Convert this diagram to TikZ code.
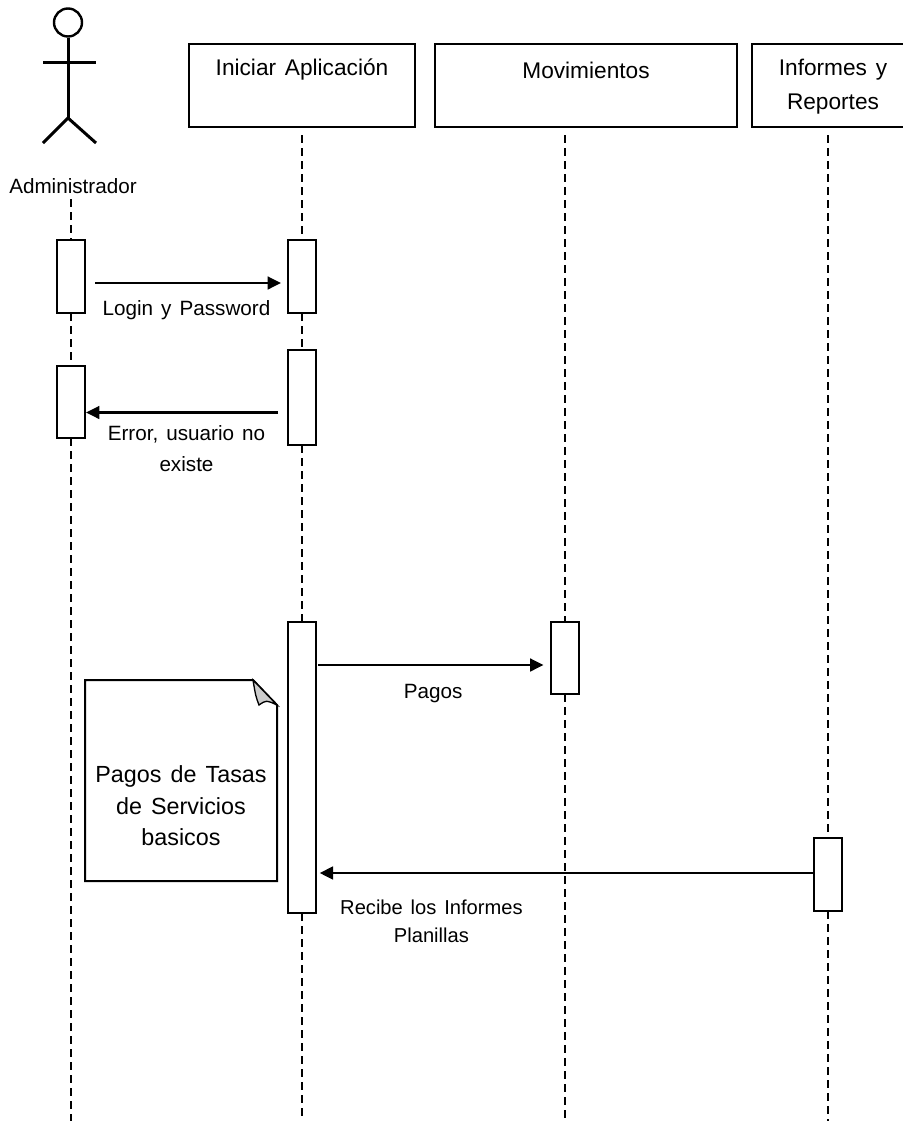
\documentclass[tikz,border=0pt]{standalone}
\usepackage{fontspec}
\setmainfont[WordSpace=1.4]{Liberation Sans}
\usetikzlibrary{positioning,arrows.meta}

\begin{document}
\begin{tikzpicture}[
  x=0.75pt, y=-0.75pt,
  every node/.style={font=\fontsize{15.5}{23}\selectfont},
  head/.style={draw, line width=1.5pt, outer sep=0pt, minimum height=62.25pt, inner sep=2pt, align=center,
               text height=16.5pt, text depth=31.5pt, font=\fontsize{17}{25}\selectfont},
  act/.style={draw, line width=1.5pt, outer sep=0pt, fill=white, minimum width=21pt, inner sep=0pt},
  limb/.style={line width=2.25pt},
  life/.style={line width=1.5pt, dash pattern=on 6pt off 3.75pt},
  msg/.style={-{Triangle[length=10pt,width=9.5pt]}, line width=1.8pt},
  lab/.style={align=center, inner sep=0pt}]

\useasboundingbox (0,0) rectangle (903,1121);

% actor
\node[draw, circle, line width=1.8pt, minimum size=21pt, inner sep=0pt] (hd) at (68,22.5) {};
\coordinate (hip) at (68,118);
\coordinate (neck) at (68,62);
\draw[limb] (hd) -- (hip);
\draw[limb] (43,62) -- (neck) -- (96,62);
\draw[limb] (43,143) -- (hip) -- (96,143);
\node (adm) at (73,186) {Administrador};

% heads
\node[head, minimum width=169.5pt, anchor=north west] (ini) at (189,44) {Iniciar Aplicaci\'on};
\node[head, minimum width=226.5pt, text height=18.75pt, text depth=29.25pt, right=15pt of ini] (mov) {Movimientos};
\node[head, minimum width=114pt, right=11.25pt of mov] (inf) {};
\node[font=\fontsize{17}{25}\selectfont, align=center] (inft) at (833,86.5) {Informes y\\Reportes};

% activations
\node[act, minimum height=54.75pt] (adm1) at (71,276.5) {};
\node[act, minimum height=54pt, below=39.75pt of adm1] (adm2) {};
\node[act, minimum height=54.75pt] (ini1) at (302,276.5) {};
\node[act, minimum height=71.25pt, below=27.75pt of ini1] (ini2) {};
\node[act, minimum height=218.25pt, below=132.75pt of ini2] (ini3) {};
\node[act, minimum height=54pt] (mov1) at (564.5,658) {};
\node[act, minimum height=54.75pt] (inf1) at (827.5,874.5) {};

% lifelines
\coordinate (admend) at (71,1121);
\coordinate (admtop) at (71,199);
\coordinate (initop) at (302,135);
\coordinate (iniend) at (302,1121);
\coordinate (movtop) at (564.5,135);
\coordinate (movend) at (564.5,1121);
\coordinate (inftop) at (827.5,135);
\coordinate (infend) at (827.5,1121);
\draw[life] (admtop) -- (adm1);
\draw[life] (adm1) -- (adm2);
\draw[life] (adm2) -- (admend);
\draw[life] (initop) -- (ini1);
\draw[life] (ini1) -- (ini2);
\draw[life] (ini2) -- (ini3);
\draw[life] (ini3) -- (iniend);
\draw[life] (movtop) -- (mov1);
\draw[life] (mov1) -- (movend);
\draw[life] (inftop) -- (inf1);
\draw[life] (inf1) -- (infend);

% note
\node[minimum width=144pt, minimum height=150.75pt, inner sep=0pt, outer sep=0pt] (note) at (181,780.5) {};
\node[align=center, font=\fontsize{17.5}{23.6}\selectfont] (notet) at ([yshift=-19pt]note.center) {Pagos de Tasas\\de Servicios\\basicos};
\draw[line width=1.5pt] ([xshift=-18pt]note.north east) -- (note.north west) -- (note.south west)
      -- (note.south east) -- ([yshift=-18.75pt]note.north east) -- cycle;
\draw[line width=1pt, fill=black!20] ([xshift=-18pt]note.north east)
      .. controls ([xshift=-16pt,yshift=-12pt]note.north east) .. ([xshift=-13.5pt,yshift=-18.75pt]note.north east)
      .. controls ([xshift=-8pt,yshift=-15pt]note.north east) .. ([yshift=-18.75pt]note.north east) -- cycle;

% messages
\coordinate (loginy) at (0,283);
\coordinate (errory) at (0,412.5);
\coordinate (pagosy) at (0,665);
\coordinate (reciby) at (0,873);
\draw[msg, shorten <=7.5pt, shorten >=5.25pt] (adm1.east |- loginy) -- node[lab, below=12pt] {Login y Password} (ini1.west |- loginy);
\draw[msg, shorten <=7.5pt, shorten >=0.75pt] (ini2.west |- errory) -- node[lab, below=9pt] {Error, usuario no\\existe} (adm2.east |- errory);
\draw[msg, shorten <=1.5pt, shorten >=5.25pt] (ini3.east |- pagosy) -- node[lab, below=13.5pt] {Pagos} (mov1.west |- pagosy);
\draw[msg, shorten >=2.75pt] (inf1.west |- reciby) -- node[lab, below=19pt, pos=0.768, font=\fontsize{15.1}{21}\selectfont] {Recibe los Informes\\Planillas} (ini3.east |- reciby);
\end{tikzpicture}
\end{document}
